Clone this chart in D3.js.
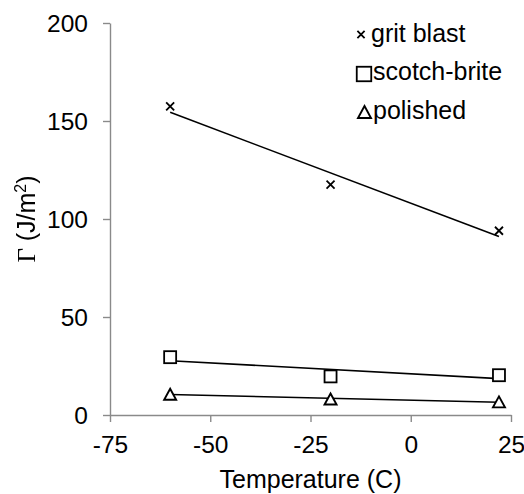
<!DOCTYPE html>
<html>
<head>
<meta charset="utf-8">
<script src="https://cdn.jsdelivr.net/npm/d3@7"></script>
<style>
  html, body { margin: 0; padding: 0; background: #fff; }
  svg { display: block; font-family: "Liberation Sans", Arial, sans-serif; }
  text { fill: #000; }
</style>
</head>
<body>
<svg id="chart" width="524" height="494"></svg>
<script>
// Test temperatures (C)
const temperatures = [-60, -20, 22];
// Fracture energy Γ (J/m²) per surface preparation
const gritBlast = [157.5, 117.5, 94];
const scotchBrite = [29.5, 19.7, 20.3];
const polished = [10.6, 8.2, 6.7];

const seriesNames = ["grit blast", "scotch-brite", "polished"];
const xTicks = [-75, -50, -25, 0, 25];
const yTicks = [0, 50, 100, 150, 200];

const svg = d3.select("#chart");
const axisColor = "#8a8a8a";

// Grayscale filter keeps the rotated label's antialiasing neutral
svg.append("defs").append("filter").attr("id", "gray")
  .attr("x", "-10%").attr("y", "-10%").attr("width", "120%").attr("height", "120%")
  .append("feColorMatrix").attr("type", "saturate").attr("values", 0);

const x = d3.scaleLinear().domain([-75, 25]).range([110, 511]);
const y = d3.scaleLinear().domain([0, 200]).range([415, 23]);

// Plain hyphen for negative tick labels
const fmt = v => String(v);

// Axes
const xAxis = svg.append("g").attr("transform", `translate(0,${y(0)})`)
  .call(d3.axisBottom(x).tickValues(xTicks).tickFormat(fmt).tickSize(7).tickSizeOuter(0).tickPadding(14));
const yAxis = svg.append("g").attr("transform", `translate(${x(-75)},0)`)
  .call(d3.axisLeft(y).tickValues(yTicks).tickFormat(fmt).tickSize(7).tickSizeOuter(0).tickPadding(15));

[xAxis, yAxis].forEach(g => {
  g.select(".domain").attr("stroke", axisColor).attr("stroke-width", 1.4);
  g.selectAll(".tick line").attr("stroke", axisColor).attr("stroke-width", 1.4);
  g.selectAll(".tick text").attr("fill", "#000").attr("font-size", 24.5)
    .attr("font-family", "'Liberation Sans', Arial, sans-serif");
});
xAxis.selectAll(".tick text").attr("dy", "0.71em");
yAxis.selectAll(".tick text").attr("dy", "0.34em");

// Axis titles
svg.append("text")
  .attr("x", (x(-75) + x(25)) / 2).attr("y", 488)
  .attr("text-anchor", "middle").attr("font-size", 25).attr("fill", "#000")
  .text("Temperature (C)");

const yTitle = svg.append("g").attr("filter", "url(#gray)")
  .append("text")
  .attr("transform", `translate(35,${y(100)}) rotate(-90)`)
  .attr("text-anchor", "middle").attr("font-size", 25).attr("fill", "#000");
yTitle.append("tspan").attr("font-family", "'Liberation Serif', 'Times New Roman', serif")
  .attr("fill", "#000").text("Γ");
yTitle.append("tspan").attr("fill", "#000").text(" (J/m");
yTitle.append("tspan").attr("fill", "#000").attr("font-size", 16).attr("dy", -9).text("2");
yTitle.append("tspan").attr("fill", "#000").attr("dy", 9).text(")");

// Least-squares trendline over the data range
function fitLine(xs, ys) {
  const mx = d3.mean(xs), my = d3.mean(ys);
  const sxy = d3.sum(xs, (v, i) => (v - mx) * (ys[i] - my));
  const sxx = d3.sum(xs, v => (v - mx) ** 2);
  const b = sxy / sxx, a = my - b * mx;
  const ext = d3.extent(xs);
  return ext.map(v => [v, a + b * v]);
}

const line = d3.line().x(d => x(d[0])).y(d => y(d[1]));
[gritBlast, scotchBrite, polished].forEach(vals => {
  svg.append("path")
    .attr("d", line(fitLine(temperatures, vals)))
    .attr("fill", "none").attr("stroke", "#000").attr("stroke-width", 1.6);
});

// Marker shapes
function drawCross(g, cx, cy, r) {
  g.append("path")
    .attr("d", `M${cx - r},${cy - r}L${cx + r},${cy + r}M${cx - r},${cy + r}L${cx + r},${cy - r}`)
    .attr("stroke", "#000").attr("stroke-width", 1.8).attr("fill", "none");
}
function drawSquare(g, cx, cy, s) {
  g.append("rect").attr("x", cx - s / 2).attr("y", cy - s / 2)
    .attr("width", s).attr("height", s)
    .attr("fill", "#fff").attr("stroke", "#000").attr("stroke-width", 1.8);
}
function drawTriangle(g, cx, cy, w, h) {
  g.append("path")
    .attr("d", `M${cx},${cy - h / 2}L${cx + w / 2},${cy + h / 2}L${cx - w / 2},${cy + h / 2}Z`)
    .attr("fill", "#fff").attr("stroke", "#000").attr("stroke-width", 1.9)
    .attr("stroke-linejoin", "miter");
}

const marks = svg.append("g");
temperatures.forEach((t, i) => {
  drawCross(marks, x(t), y(gritBlast[i]), 4);
  drawSquare(marks, x(t), y(scotchBrite[i]), 12);
  drawTriangle(marks, x(t), y(polished[i]), 12, 11);
});

// Legend
const legend = svg.append("g");
drawCross(legend, 361, 34.5, 3.6);
drawSquare(legend, 364, 74, 14.5);
drawTriangle(legend, 364.5, 112, 13, 12);
const legendY = [42, 80, 118.5];
const legendX = [371, 373, 373];
seriesNames.forEach((name, i) => {
  legend.append("text").attr("x", legendX[i]).attr("y", legendY[i])
    .attr("font-size", 25).attr("fill", "#000").text(name);
});
</script>
</body>
</html>
